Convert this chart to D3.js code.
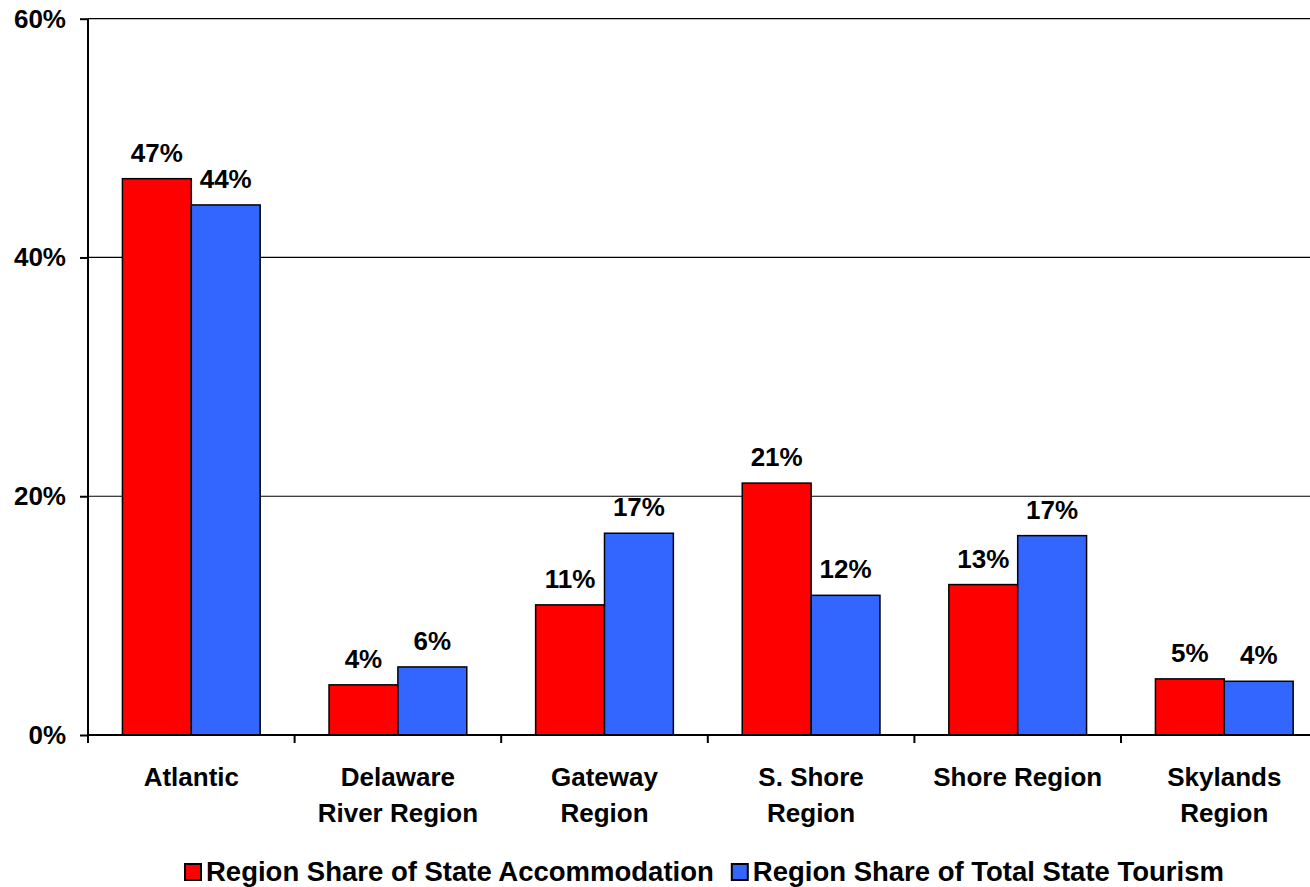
<!DOCTYPE html>
<html>
<head>
<meta charset="utf-8">
<script src="https://cdn.jsdelivr.net/npm/d3@7"></script>
<style>
  body { margin: 0; background: #fff; }
  text { font-family: Arial, "Liberation Sans", sans-serif; font-weight: bold; fill: #000; }
</style>
</head>
<body>
<div id="chart"></div>
<script>
// data
var categories = ["Atlantic", "Delaware River Region", "Gateway Region", "S. Shore Region", "Shore Region", "Skylands Region"];
var catLines = [["Atlantic"], ["Delaware", "River Region"], ["Gateway", "Region"], ["S. Shore", "Region"], ["Shore Region"], ["Skylands", "Region"]];
var seriesNames = ["Region Share of State Accommodation", "Region Share of Total State Tourism"];
var accommodation = [46.6, 4.2, 10.9, 21.1, 12.6, 4.7];
var tourism = [44.4, 5.7, 16.9, 11.7, 16.7, 4.5];
var accLabels = ["47%", "4%", "11%", "21%", "13%", "5%"];
var tourLabels = ["44%", "6%", "17%", "12%", "17%", "4%"];
var yTicks = [0, 20, 40, 60];
var colors = ["#FF0000", "#3366FF"];

var width = 1310, height = 887;
var plotLeft = 88, plotBottom = 735, plotTop = 18.7;
var catStep = 206.6;

var svg = d3.select('#chart').append('svg')
    .attr('width', width)
    .attr('height', height);

var x = d3.scaleBand().domain(categories).range([plotLeft, plotLeft + catStep * categories.length]);
var x1 = d3.scaleBand().domain([0, 1]).range([0, x.bandwidth()]).paddingOuter(0.5);
var y = d3.scaleLinear().domain([0, 60]).range([plotBottom, plotTop]);

function label(g, tx, ty, str, size, anchor) {
  return g.append('text')
    .attr('x', tx).attr('y', ty)
    .attr('text-anchor', anchor)
    .style('font-size', size + 'px')
    .text(str);
}

// gridlines
svg.append('g').selectAll('line')
  .data(yTicks.filter(function(d) { return d > 0; }))
  .enter().append('line')
  .attr('x1', plotLeft).attr('x2', width)
  .attr('y1', function(d) { return y(d); })
  .attr('y2', function(d) { return y(d); })
  .attr('stroke', '#000').attr('stroke-width', 1.2);

// bars
var data = categories.map(function(c, i) {
  return [
    {cat: c, s: 0, v: accommodation[i], label: accLabels[i]},
    {cat: c, s: 1, v: tourism[i], label: tourLabels[i]}
  ];
});

var groups = svg.append('g').selectAll('g')
  .data(data)
  .enter().append('g')
  .attr('transform', function(d) { return 'translate(' + x(d[0].cat) + ',0)'; });

groups.selectAll('rect')
  .data(function(d) { return d; })
  .enter().append('rect')
  .attr('x', function(d) { return x1(d.s); })
  .attr('width', x1.bandwidth())
  .attr('y', function(d) { return y(d.v); })
  .attr('height', function(d) { return plotBottom - y(d.v); })
  .attr('fill', function(d) { return colors[d.s]; })
  .attr('stroke', '#000').attr('stroke-width', 1.5);

groups.each(function(d) {
  var g = d3.select(this);
  d.forEach(function(b) {
    label(g, x1(b.s) + x1.bandwidth() / 2, y(b.v) - 17, b.label, 26, 'middle');
  });
});

// y axis
var yAxis = svg.append('g')
  .attr('transform', 'translate(' + plotLeft + ',0)')
  .call(d3.axisLeft(y).tickValues(yTicks).tickSize(8).tickFormat(function(d) { return d + '%'; }));
yAxis.select('.domain').attr('stroke-width', 2).attr('d', 'M0,' + plotTop + 'V' + plotBottom);
yAxis.selectAll('.tick line').attr('stroke-width', 2);
yAxis.selectAll('.tick text').remove();
yTicks.forEach(function(t) {
  label(svg, 66, y(t) + 9, t + '%', 26, 'end');
});

// x axis
svg.append('line')
  .attr('x1', plotLeft).attr('x2', width)
  .attr('y1', plotBottom).attr('y2', plotBottom)
  .attr('stroke', '#000').attr('stroke-width', 2);
svg.append('g').selectAll('line')
  .data(categories)
  .enter().append('line')
  .attr('x1', function(d) { return x(d); })
  .attr('x2', function(d) { return x(d); })
  .attr('y1', plotBottom).attr('y2', plotBottom + 8)
  .attr('stroke', '#000').attr('stroke-width', 2);

categories.forEach(function(c, i) {
  catLines[i].forEach(function(line, j) {
    label(svg, x(c) + x.bandwidth() / 2, 786 + j * 36, line, 26, 'middle');
  });
});

// legend
var legend = svg.append('g');
var lx = 185;
seriesNames.forEach(function(name, i) {
  legend.append('rect')
    .attr('x', lx).attr('y', 864)
    .attr('width', 16).attr('height', 16)
    .attr('fill', colors[i])
    .attr('stroke', '#000').attr('stroke-width', 2);
  var t = label(legend, lx + 21, 881, name, 27.5, 'start');
  lx += 21 + t.node().getComputedTextLength() + 18;
});
</script>
</body>
</html>
